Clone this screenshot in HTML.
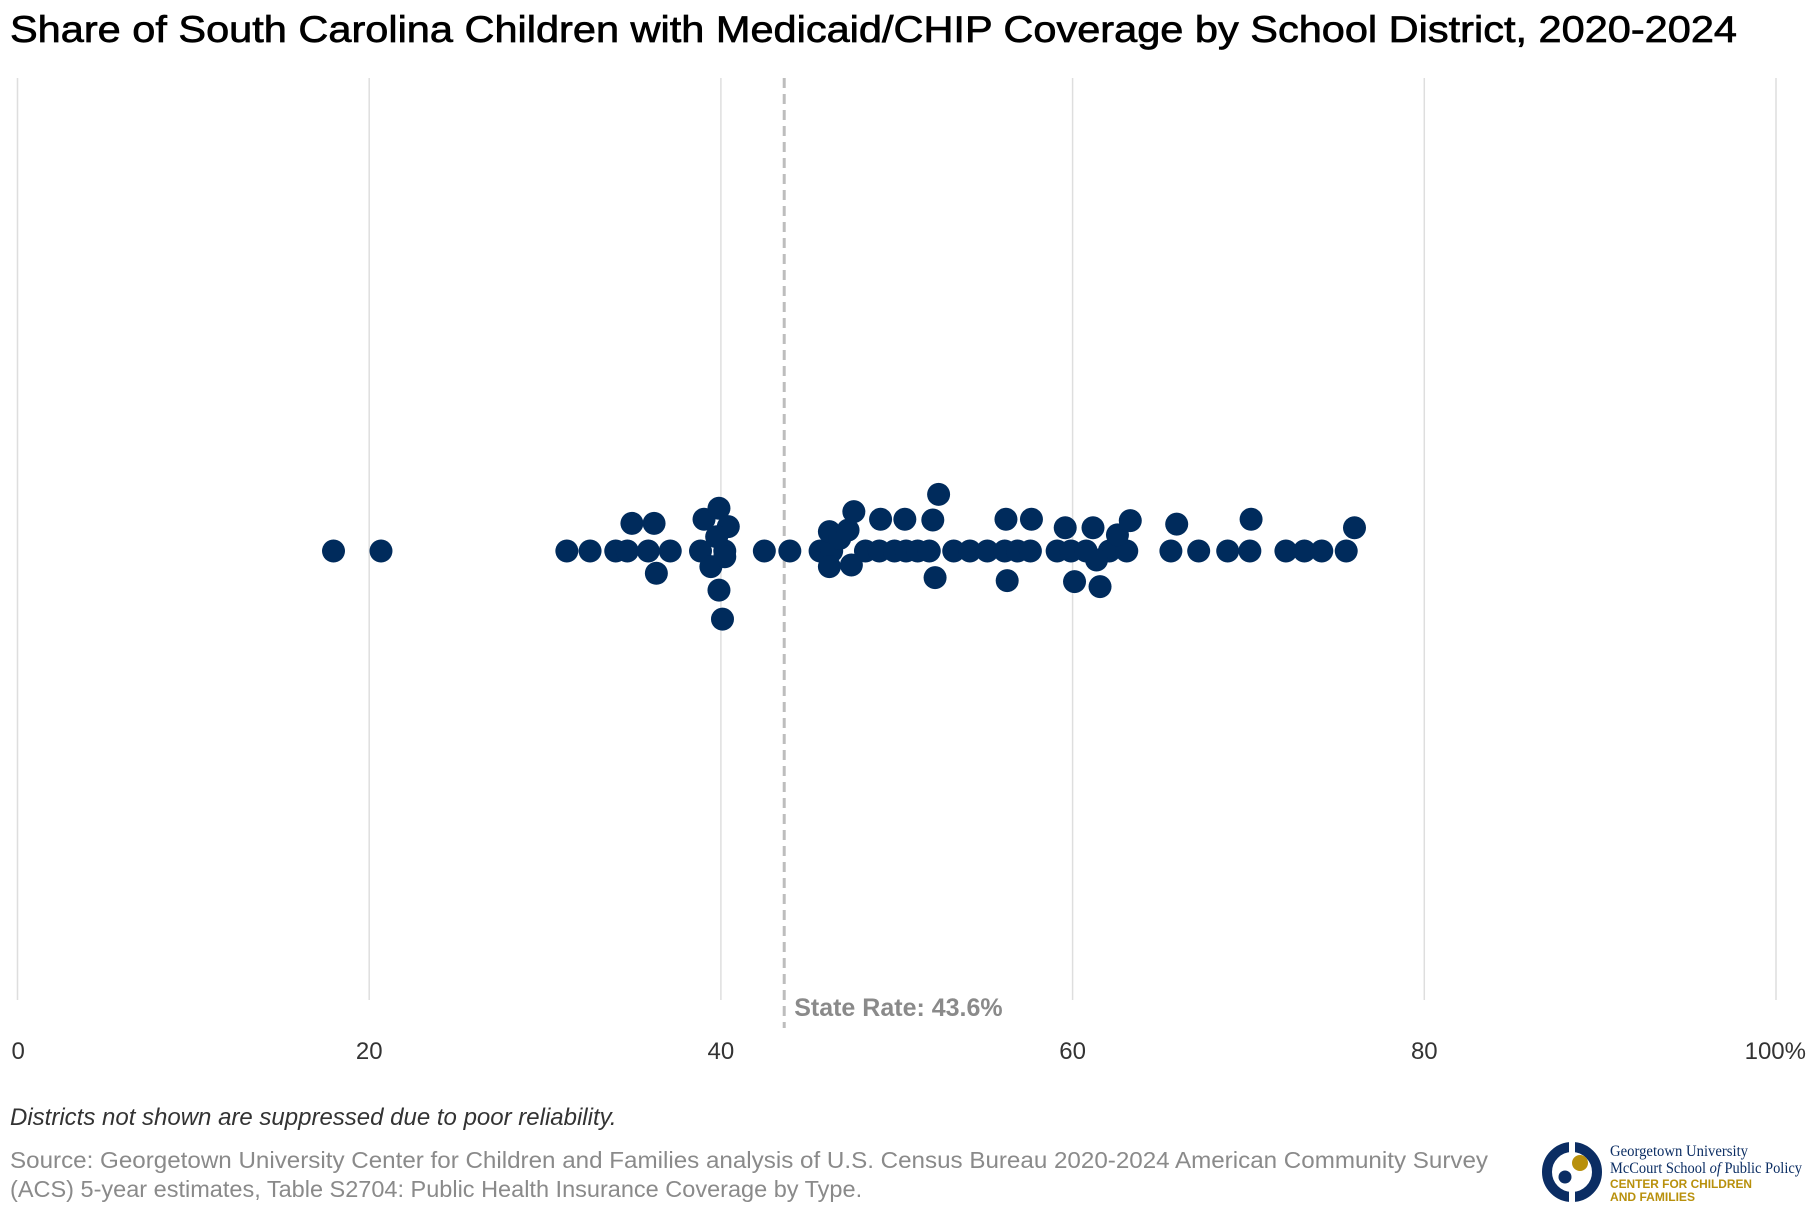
<!DOCTYPE html>
<html><head><meta charset="utf-8"><style>
html,body{margin:0;padding:0;background:#fff;}
svg{display:block;font-family:"Liberation Sans",Arial,sans-serif;}
</style></head><body>
<svg id="chart" width="1820" height="1220" viewBox="0 0 1820 1220">
<text x="10" y="42" font-size="37" fill="#000" stroke="#000" stroke-width="0.7" textLength="1727" lengthAdjust="spacingAndGlyphs">Share of South Carolina Children with Medicaid/CHIP Coverage by School District, 2020-2024</text>
<g id="grid"></g>
<g id="ref"></g>
<g id="dots"></g>
<g id="ticks"></g>
<text x="10" y="1125" font-size="24" font-style="italic" fill="#333">Districts not shown are suppressed due to poor reliability.</text>
<text x="10" y="1168" font-size="23.5" fill="#8a8a8a" textLength="1478" lengthAdjust="spacingAndGlyphs">Source: Georgetown University Center for Children and Families analysis of U.S. Census Bureau 2020-2024 American Community Survey</text>
<text x="10" y="1197" font-size="23.5" fill="#8a8a8a">(ACS) 5-year estimates, Table S2704: Public Health Insurance Coverage by Type.</text>
<g>
  <circle cx="1572" cy="1172" r="25" fill="none" stroke="#0b2d63" stroke-width="10"/>
  <rect x="1569" y="1140" width="6" height="64" fill="#fff"/>
  <circle cx="1580" cy="1163" r="8" fill="#b8900c"/>
  <circle cx="1565" cy="1177" r="6.5" fill="#0b2d63"/>
  <text x="1610" y="1156" font-family="'Liberation Serif',serif" font-size="15.5" fill="#0b2d63" textLength="138" lengthAdjust="spacingAndGlyphs">Georgetown University</text>
  <text x="1610" y="1173" font-family="'Liberation Serif',serif" font-size="15.5" fill="#0b2d63" textLength="192" lengthAdjust="spacingAndGlyphs">McCourt School <tspan font-style="italic">of</tspan> Public Policy</text>
  <text x="1610" y="1188" font-size="12" font-weight="bold" fill="#b8900c" textLength="142" lengthAdjust="spacingAndGlyphs">CENTER FOR CHILDREN</text>
  <text x="1610" y="1201" font-size="12" font-weight="bold" fill="#b8900c" textLength="85" lengthAdjust="spacingAndGlyphs">AND FAMILIES</text>
</g>
</svg>
<script>
const tickValues=[0,20,40,60,80,100];
const tickLabels=["0","20","40","60","80","100%"];
const stateRate=43.6;
const values=[17.97,20.67,31.24,32.56,34.02,34.68,35.87,37.12,38.84,40.22,42.47,43.92,45.64,46.30,48.22,49.01,49.87,50.53,51.19,51.85,53.24,54.16,55.15,56.14,56.87,57.60,59.12,59.91,60.77,62.09,63.08,65.59,67.17,68.82,70.08,72.13,73.18,74.17,75.56,
34.94,36.20,36.33,39.04,39.89,40.42,39.43,39.89,40.09,39.76,40.22,46.17,46.76,47.23,47.56,46.17,47.42,49.08,50.46,52.05,52.38,52.18,56.21,57.66,56.28,59.58,61.16,60.11,61.56,61.36,62.55,63.28,65.92,70.15,76.03];
const jitter=[0,0,0,0,0,0,0,0,0,0,0,0,0,0,0,0,0,0,0,0,0,0,0,0,0,0,0,0,0,0,0,0,0,0,0,0,0,0,0,
-1.2,-1.2,0.97,-1.38,-1.86,-1.06,0.68,1.70,2.96,-0.62,0.25,-0.84,-0.55,-0.91,-1.71,0.68,0.61,-1.38,-1.38,-1.35,-2.46,1.16,-1.38,-1.38,1.29,-1.01,-1.01,1.33,1.55,0.39,-0.70,-1.32,-1.17,-1.38,-1.01];
const NS="http://www.w3.org/2000/svg";
const X0=17.5,X1=1776,yTop=78,yBot=1000,yMid=551,R=11.5,DIAM=23;
function xScale(v){return X0+(X1-X0)*v/100;}
function mk(tag,attrs,parent){const e=document.createElementNS(NS,tag);for(const k in attrs)e.setAttribute(k,attrs[k]);parent.appendChild(e);return e;}
const grid=document.getElementById('grid'),ticks=document.getElementById('ticks'),dots=document.getElementById('dots'),ref=document.getElementById('ref');
tickValues.forEach((t,i)=>{
  const x=xScale(t);
  const l=mk('line',{x1:x,x2:x,y1:yTop,y2:yBot,stroke:'#dedede','stroke-width':1.5},grid);
  
  
  const anchor=i===0?'start':(i===tickValues.length-1?'end':'middle');
  const tx=mk('text',{x:i===0?x-6:(i===tickValues.length-1?x+30:x),y:1059,'font-size':24,fill:'#333','text-anchor':anchor},ticks);
  tx.textContent=tickLabels[i];
  
  
});
const sx=xScale(stateRate);
const sl=mk('line',{x1:sx,x2:sx,y1:yTop,y2:1028,stroke:'#bdbdbd','stroke-width':3,'stroke-dasharray':'10,6'},ref);


const st=mk('text',{x:sx+10,y:1016,'font-size':25,'font-weight':'bold',fill:'#8a8a8a'},ref);
st.textContent='State Rate: '+stateRate+'%';


values.forEach((v,i)=>{
  const c=mk('circle',{cx:xScale(v),cy:yMid+jitter[i]*DIAM,r:R,fill:'#002b5c'},dots);
  
  
});
</script>
</body></html>
